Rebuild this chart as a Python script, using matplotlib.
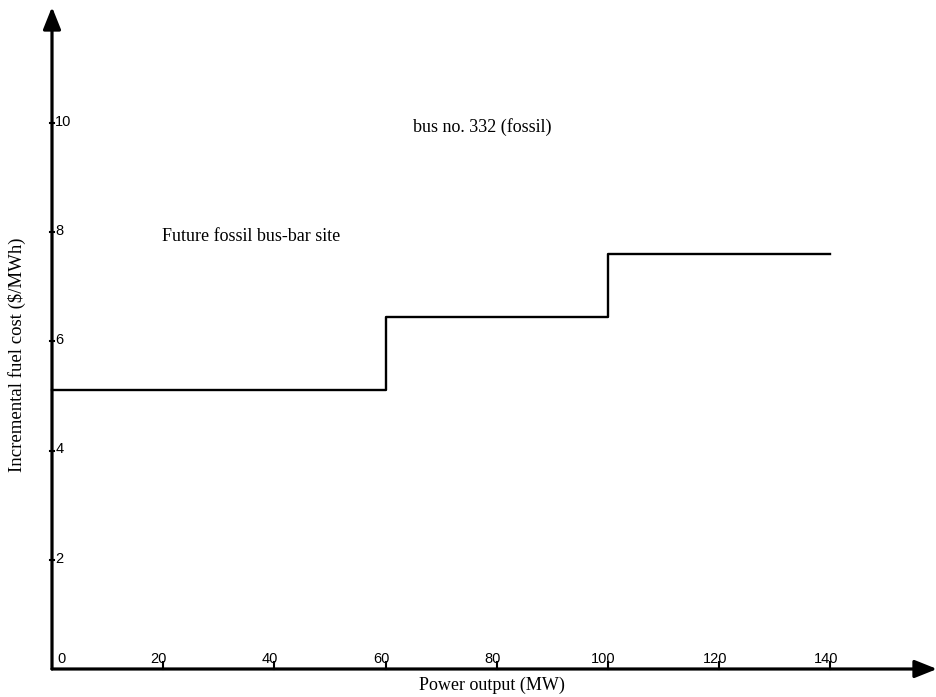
import matplotlib
matplotlib.use("Agg")
import matplotlib.pyplot as plt

# Piecewise incremental fuel cost of the generating unit
power_breaks = [0, 60, 100, 140]          # MW
cost_levels = [5.1, 6.45, 7.6]             # $/MWh on each block

x_ticks = [20, 40, 60, 80, 100, 120, 140]
x_tick_labels = ["20", "40", "60", "80", "100", "120", "140"]
y_ticks = [2, 4, 6, 8, 10]
y_tick_labels = ["2", "4", "6", "8", "10"]

X_MAX = 159.2
Y_MAX = 12.12

fig = plt.figure(figsize=(9.37, 6.97), dpi=100)
ax = fig.add_axes([52 / 937, 28 / 697, (937 - 52) / 937, (669 - 7) / 697])
ax.set_xlim(0, X_MAX)
ax.set_ylim(0, Y_MAX)
ax.axis("off")

serif = ["Liberation Serif", "DejaVu Serif"]
sans = ["Liberation Sans", "DejaVu Sans"]

# Axes drawn as arrows
arrow = dict(arrowstyle="-|>,head_length=0.9,head_width=0.36", lw=2.3,
             color="black", mutation_scale=15, shrinkA=0, shrinkB=0)
ax.annotate("", xy=(X_MAX, 0), xytext=(0, 0), arrowprops=arrow,
            annotation_clip=False)
ax.annotate("", xy=(0, Y_MAX), xytext=(0, 0), arrowprops=arrow,
            annotation_clip=False)

# Step curve
ax.step(power_breaks, cost_levels + [cost_levels[-1]], where="post",
        color="black", lw=1.7, clip_on=False)

# Tick marks and labels
for xv, lab in zip(x_ticks, x_tick_labels):
    ax.plot([xv, xv], [0, 0.12], color="black", lw=1.5, clip_on=False)
    ax.text(xv - 0.8, 0.06, lab, ha="center", va="bottom", fontsize=10.5,
            family=sans)
ax.text(1.0, 0.06, "0", ha="left", va="bottom", fontsize=10.5, family=sans)

for yv, lab in zip(y_ticks, y_tick_labels):
    ax.plot([-0.35, 0.35], [yv, yv], color="black", lw=1.5, clip_on=False)
    ax.text(0.6, yv + 0.02, lab, ha="left", va="center", fontsize=10.5,
            family=sans)

# Annotations
ax.text(19.8, 7.91, "Future fossil bus-bar site", ha="left", va="center",
        fontsize=13, family=serif)
ax.text(64.9, 9.93, "bus no. 332 (fossil)", ha="left", va="center",
        fontsize=13, family=serif)

# Axis titles
fig.text(492 / 937, 1 - 685 / 697, "Power output (MW)", ha="center",
         va="center", fontsize=13, family=serif)
fig.text(17 / 937, 1 - 355 / 697, "Incremental fuel cost ($/MWh)",
         ha="center", va="center", rotation=90, fontsize=13.5, family=serif)

fig.savefig("out.png", dpi=100)
